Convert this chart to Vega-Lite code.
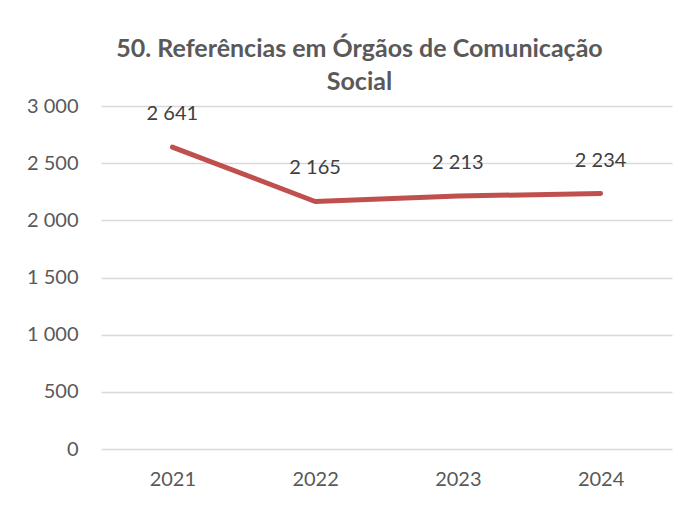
{
  "$schema": "https://vega.github.io/schema/vega-lite/v6.json",
  "width": 571,
  "height": 343,
  "autosize": "none",
  "padding": {"left": 101, "top": 106, "right": 9, "bottom": 66},
  "background": "white",
  "title": {
    "text": ["50. Referências em Órgãos de Comunicação", "Social"],
    "font": "Lato",
    "fontSize": 25,
    "fontWeight": "bold",
    "color": "#595959",
    "lineHeight": 33,
    "anchor": "middle",
    "frame": "group",
    "dx": -27,
    "offset": 1
  },
  "data": {
    "values": [
      {"ano": "2021", "valor": 2641},
      {"ano": "2022", "valor": 2165},
      {"ano": "2023", "valor": 2213},
      {"ano": "2024", "valor": 2234}
    ]
  },
  "config": {
    "view": {"stroke": null},
    "font": "Lato",
    "locale": {
      "number": {"decimal": ",", "thousands": " ", "grouping": [3], "currency": ["", " €"]}
    }
  },
  "encoding": {
    "x": {
      "field": "ano",
      "type": "ordinal",
      "scale": {"type": "point", "padding": 0.5},
      "axis": {
        "title": null,
        "labelAngle": 0,
        "domain": false,
        "ticks": false,
        "labelPadding": 20,
        "labelFontSize": 20,
        "labelColor": "#595959",
        "labelFont": "Lato"
      }
    },
    "y": {
      "field": "valor",
      "type": "quantitative",
      "scale": {"domain": [0, 3000]},
      "axis": {
        "title": null,
        "values": [0, 500, 1000, 1500, 2000, 2500, 3000],
        "format": ",.0f",
        "domain": false,
        "ticks": false,
        "labelPadding": 23,
        "labelFontSize": 20,
        "labelColor": "#595959",
        "labelFont": "Lato",
        "gridColor": "#d9d9d9",
        "gridWidth": 1.3
      }
    }
  },
  "layer": [
    {
      "mark": {"type": "line", "color": "#C0504D", "strokeWidth": 5, "strokeCap": "round", "strokeJoin": "round"}
    },
    {
      "mark": {"type": "text", "dy": -33, "fontSize": 20, "color": "#404040", "font": "Lato"},
      "encoding": {
        "text": {"field": "valor", "type": "quantitative", "format": ",.0f"}
      }
    }
  ]
}
